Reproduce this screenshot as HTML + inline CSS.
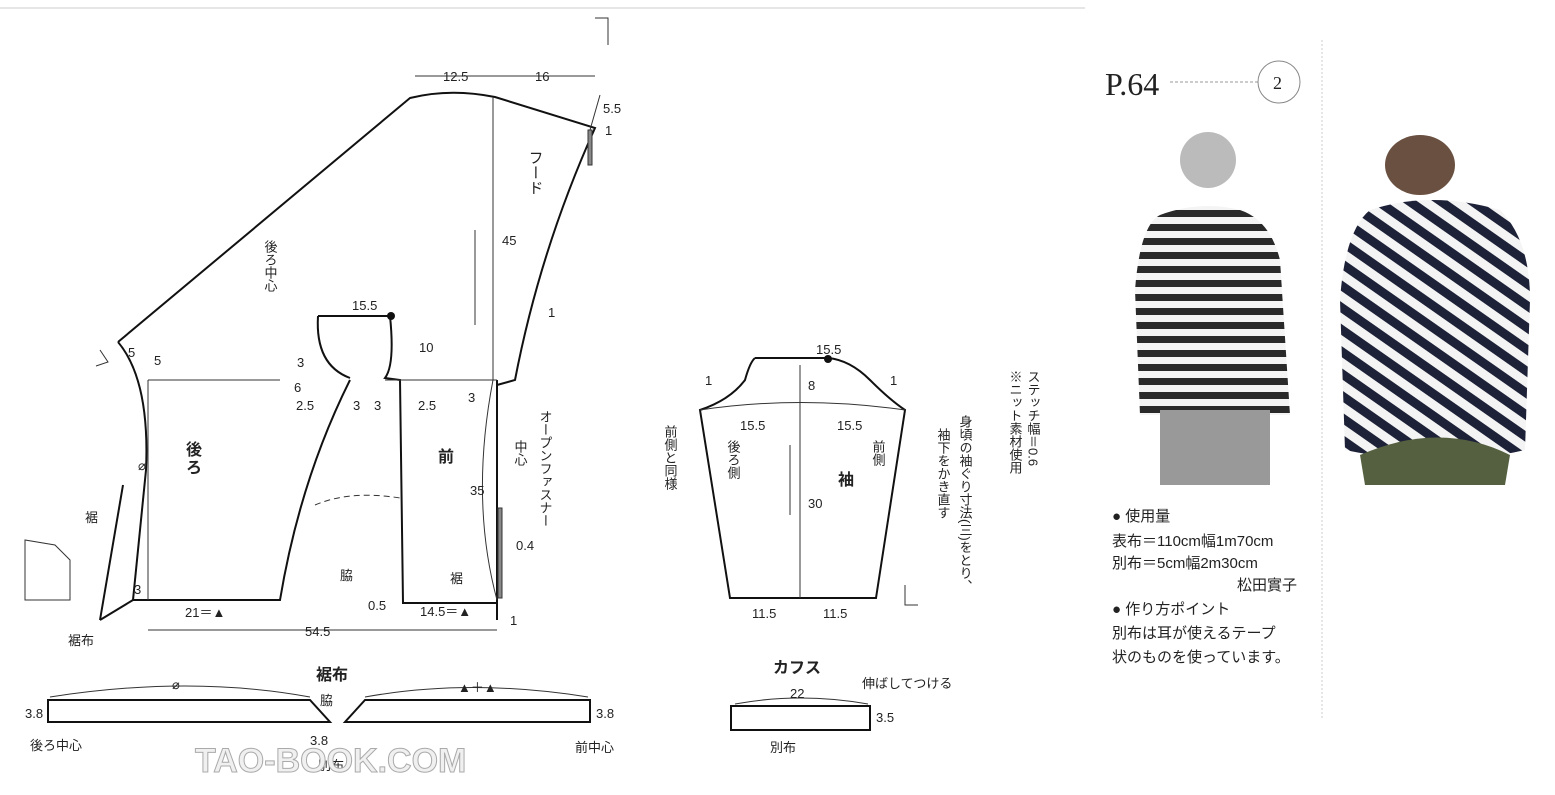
<!DOCTYPE html>
<html><head><meta charset="utf-8"><style>
html,body{margin:0;padding:0;background:#fff}
svg text{font-family:"Liberation Sans","Noto Sans CJK JP",sans-serif;fill:#222}
</style></head><body>
<svg width="1555" height="790" viewBox="0 0 1555 790" xmlns="http://www.w3.org/2000/svg">
<defs>
<pattern id="st" width="14" height="14" patternUnits="userSpaceOnUse"><rect width="14" height="14" fill="#f4f4f4"/><rect width="14" height="7" fill="#2a2a2a"/></pattern>
<pattern id="st2" width="18" height="18" patternUnits="userSpaceOnUse" patternTransform="rotate(35)"><rect width="18" height="18" fill="#f4f4f4"/><rect width="18" height="9" fill="#1e2238"/></pattern>
</defs>
<line x1="0" y1="8" x2="1085" y2="8" stroke="#ccc"/>
<line x1="1322" y1="40" x2="1322" y2="720" stroke="#ccc" stroke-dasharray="2,2"/>
<g fill="none" stroke="#111" stroke-width="2">
<path d="M118,342 L410,98 Q450,88 495,97 L595,128 Q540,250 515,380 L497,385"/>
<path d="M118,342 Q150,380 146,470 L133,600 L280,600 Q300,480 350,380"/>
<path d="M100,620 L123,485"/>
<path d="M100,620 L133,600"/>
<path d="M318,316 L390,316"/>
<path d="M318,316 Q315,365 350,378"/>
<path d="M390,316 Q395,365 385,378 L400,380 L403,603 L497,603"/>
<path d="M497,380 L497,620"/>
<path d="M755,358 L828,358 Q850,360 870,380 Q890,400 905,410 L876,598 L730,598 L700,410 Q730,400 745,380 Q750,362 755,358"/>
<path d="M48,700 L310,700 L330,722 L48,722 Z"/>
<path d="M365,700 L590,700 L590,722 L345,722 Z"/>
<rect x="731" y="706" width="139" height="24"/>
</g>
<g fill="none" stroke="#333" stroke-width="1">
<line x1="148" y1="380" x2="280" y2="380"/><line x1="385" y1="380" x2="497" y2="380"/>
<line x1="148" y1="380" x2="148" y2="600"/>
<line x1="493" y1="97" x2="493" y2="380"/>
<path d="M493,380 Q470,500 497,600"/>
<line x1="800" y1="365" x2="800" y2="598"/>
<path d="M700,410 Q800,395 905,410"/>
<line x1="415" y1="76" x2="595" y2="76"/>
<line x1="148" y1="630" x2="497" y2="630"/>
<line x1="475" y1="230" x2="475" y2="325"/>
<line x1="790" y1="445" x2="790" y2="515"/>
<path d="M50,697 Q190,675 310,697"/>
<path d="M365,697 Q470,678 588,697"/>
<path d="M735,704 Q800,692 868,704"/>
<path d="M315,505 Q350,490 400,498" stroke-dasharray="6,4"/>
<line x1="590" y1="130" x2="600" y2="95"/>
<rect x="498" y="508" width="4" height="90" fill="#888"/>
<rect x="588" y="130" width="4" height="35" fill="#888"/>
<path d="M25,540 L25,600 L70,600 L70,560 L55,545 Z"/>
<path d="M595,18 L608,18 L608,45"/>
<path d="M100,350 L108,362 L96,366"/>
<path d="M905,585 L905,605 L918,605"/>
</g>
<g font-size="13">
<text x="443" y="81">12.5</text><text x="535" y="81">16</text>
<text x="603" y="113">5.5</text><text x="605" y="135">1</text>
<text x="502" y="245">45</text><text x="548" y="317">1</text>
<text x="352" y="310">15.5</text>
<circle cx="391" cy="316" r="4" fill="#111"/>
<text x="128" y="357">5</text><text x="154" y="365">5</text>
<text x="297" y="367">3</text><text x="419" y="352">10</text>
<text x="294" y="392">6</text><text x="296" y="410">2.5</text>
<text x="353" y="410">3</text><text x="374" y="410">3</text><text x="418" y="410">2.5</text>
<text x="468" y="402">3</text>
<text x="470" y="495">35</text>
<text x="516" y="550">0.4</text>
<text x="368" y="610">0.5</text><text x="420" y="616">14.5＝▲</text>
<text x="510" y="625">1</text>
<text x="185" y="617">21＝▲</text><text x="134" y="594">3</text>
<text x="305" y="636">54.5</text>
<text x="85" y="522">裾</text><text x="68" y="645">裾布</text>
<text x="340" y="580">脇</text><text x="450" y="583">裾</text>
<text x="138" y="470">⌀</text>
<text x="816" y="354">15.5</text><circle cx="828" cy="359" r="4" fill="#111"/>
<text x="705" y="385">1</text><text x="890" y="385">1</text>
<text x="808" y="390">8</text>
<text x="740" y="430">15.5</text><text x="837" y="430">15.5</text>
<text x="808" y="508">30</text>
<text x="752" y="618">11.5</text><text x="823" y="618">11.5</text>
<text x="790" y="698">22</text><text x="876" y="722">3.5</text>
<text x="862" y="688">伸ばしてつける</text>
<text x="770" y="752">別布</text>
<text x="25" y="718">3.8</text><text x="596" y="718">3.8</text>
<text x="172" y="689">⌀</text>
<text x="458" y="692">▲＋▲</text>
<text x="320" y="705">脇</text>
<text x="30" y="750">後ろ中心</text><text x="575" y="752">前中心</text>
<text x="318" y="770">別布</text><text x="310" y="745">3.8</text>
</g>
<g font-size="16" font-weight="bold">
<text x="186" y="455">後</text><text x="186" y="473">ろ</text>
<text x="438" y="462">前</text>
<text x="838" y="485">袖</text>
<text x="316" y="680">裾布</text>
<text x="773" y="673">カフス</text>
</g>
<g font-size="15" writing-mode="tb">
<text x="535" y="150">フード</text>
</g>
<g font-size="13" writing-mode="tb">
<text x="270" y="240">後ろ中心</text>
<text x="545" y="410">オープンファスナー</text>
<text x="520" y="440">中心</text>
<text x="670" y="425">前側と同様</text>
<text x="733" y="440">後ろ側</text>
<text x="878" y="440">前側</text>
<text x="965" y="415">身頃の袖ぐり寸法(三)をとり、</text>
<text x="943" y="428">袖下をかき直す</text>
<text x="1033" y="370">ステッチ幅＝0.6</text>
<text x="1015" y="370">※ニット素材使用</text>
</g>
<text x="1105" y="95" font-size="32" style="font-family:'Liberation Serif',serif">P.64</text>
<line x1="1170" y1="82" x2="1258" y2="82" stroke="#999" stroke-dasharray="3,2"/>
<circle cx="1279" cy="82" r="21" fill="none" stroke="#888"/>
<text x="1273" y="89" font-size="18" style="font-family:'Liberation Serif',serif">2</text>
<path d="M1160,215 Q1200,200 1240,210 Q1270,220 1280,260 L1290,415 L1140,415 L1135,290 Q1140,225 1160,215 Z" fill="url(#st)"/>
<rect x="1160" y="410" width="110" height="75" fill="#999"/>
<circle cx="1208" cy="160" r="28" fill="#bbb"/>
<path d="M1370,210 Q1430,190 1500,210 Q1530,240 1530,300 L1525,450 Q1440,470 1345,450 L1340,300 Q1345,230 1370,210 Z" fill="url(#st2)"/>
<ellipse cx="1420" cy="165" rx="35" ry="30" fill="#6a5040"/>
<path d="M1360,455 Q1440,420 1510,455 L1505,485 L1365,485 Z" fill="#556040"/>
<g font-size="15">
<text x="1112" y="521">● 使用量</text>
<text x="1112" y="546">表布＝110cm幅1m70cm</text>
<text x="1112" y="568">別布＝5cm幅2m30cm</text>
<text x="1237" y="590">松田實子</text>
<text x="1112" y="614">● 作り方ポイント</text>
<text x="1112" y="638">別布は耳が使えるテープ</text>
<text x="1112" y="662">状のものを使っています。</text>
</g>
<text x="195" y="772" font-size="34" font-weight="bold" stroke="#aaa" stroke-width="1" style="fill:#f0f0f0">TAO-BOOK.COM</text>
</svg>
</body></html>
